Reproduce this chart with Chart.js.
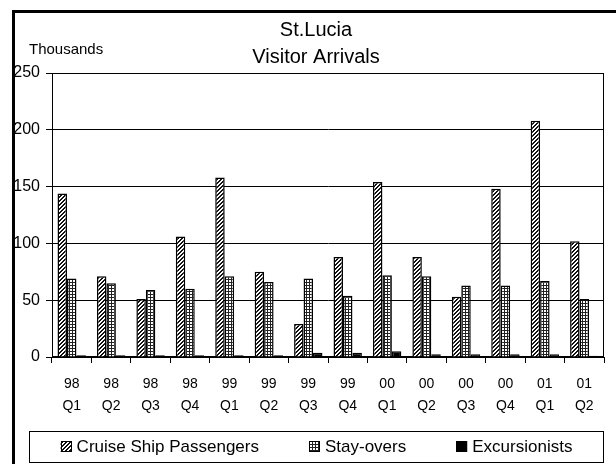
<!DOCTYPE html>
<html>
<head>
<meta charset="utf-8">
<title>St.Lucia Visitor Arrivals</title>
<script src="https://cdn.jsdelivr.net/npm/chart.js@4/dist/chart.umd.min.js"></script>
<style>
  html, body { margin: 0; padding: 0; background: #fff; }
  canvas { display: block; }
</style>
</head>
<body>
<canvas id="arrivalsChart" width="616" height="464"></canvas>
<script>
// quarter labels (year / quarter)
const years = ["98", "98", "98", "98", "99", "99", "99", "99", "00", "00", "00", "00", "01", "01"];
const quarters = ["Q1", "Q2", "Q3", "Q4", "Q1", "Q2", "Q3", "Q4", "Q1", "Q2", "Q3", "Q4", "Q1", "Q2"];

// arrivals in thousands
const cruisePassengers = [144, 71, 51, 106, 158, 75, 29, 88, 154, 88, 53, 148, 208, 102];
const stayOvers = [69, 65, 59, 60, 71, 66, 69, 54, 72, 71, 63, 63, 67, 51];
const excursionists = [1.5, 1.5, 1.5, 1.5, 1.5, 1.5, 3.8, 3.8, 5, 2.5, 2.5, 2.5, 2.5, 1];

const yTicks = [0, 50, 100, 150, 200, 250];
const titleLines = ["St.Lucia", "Visitor Arrivals"];

const FONT = "'Liberation Sans', Arial, sans-serif";

function makePattern(size, paint) {
  const tile = document.createElement("canvas");
  tile.width = size;
  tile.height = size;
  const t = tile.getContext("2d");
  t.fillStyle = "#fff";
  t.fillRect(0, 0, size, size);
  paint(t, size);
  return t.createPattern(tile, "repeat");
}

// fine diagonal hatch
const hatch = makePattern(4, (t, n) => {
  t.fillStyle = "#111";
  for (let i = 0; i < n; i++) {
    t.fillRect(i, n - 1 - i, 1, 1);
    t.fillRect(i, (n - i) % n, 1, 1);
  }
});

// small square grid
const grid = makePattern(3, (t, n) => {
  t.fillStyle = "#222";
  t.fillRect(0, 0, n, 1);
  t.fillRect(0, 0, 1, n);
});

const frame = {
  id: "frame",
  beforeDraw(chart) {
    const ctx = chart.ctx;
    ctx.save();
    ctx.fillStyle = "#fff";
    ctx.fillRect(0, 0, chart.width, chart.height);
    ctx.fillStyle = "#000";
    ctx.fillRect(12, 10, 3, chart.height - 10);
    ctx.fillRect(12, 10, chart.width - 12, 3);

    ctx.textBaseline = "middle";
    ctx.font = "15px " + FONT;
    ctx.fillText("Thousands", 29, 50);

    ctx.font = "20px " + FONT;
    ctx.textAlign = "center";
    ctx.fillText(titleLines[0], 316, 30);
    ctx.fillText(titleLines[1], 316, 57);
    ctx.restore();
  },
  beforeDatasetsDraw(chart) {
    const { ctx, chartArea: a } = chart;
    ctx.save();
    ctx.strokeStyle = "#000";
    ctx.lineWidth = 1;
    ctx.strokeRect(a.left + 0.5, a.top + 0.5, a.right - a.left - 1, a.bottom - a.top - 1);
    ctx.restore();
  }
};

// legend drawn in a bordered box under the axis labels
const boxLegend = {
  id: "boxLegend",
  afterDraw(chart) {
    const ctx = chart.ctx;
    const right = chart.chartArea.right;
    const left = 29, top = 431, bottom = 462;
    const sw = 11, gap = 5, space = 50;

    ctx.save();
    ctx.strokeStyle = "#000";
    ctx.lineWidth = 1;
    ctx.strokeRect(left + 0.5, top + 0.5, right - left - 1, bottom - top);

    ctx.font = "17px " + FONT;
    ctx.textBaseline = "middle";
    const items = chart.data.datasets.map((ds) => ({
      ds,
      w: sw + gap + ctx.measureText(ds.label).width
    }));
    const total = items.reduce((s, it) => s + it.w, 0) + space * (items.length - 1);
    let x = (left + right) / 2 - total / 2;
    const cy = (top + bottom) / 2;

    items.forEach((it) => {
      ctx.fillStyle = it.ds.backgroundColor;
      ctx.fillRect(x, cy - sw / 2, sw, sw);
      ctx.strokeStyle = "#000";
      ctx.strokeRect(Math.round(x) + 0.5, Math.round(cy - sw / 2) + 0.5, sw - 1, sw - 1);
      ctx.fillStyle = "#000";
      ctx.fillText(it.ds.label, x + sw + gap, cy + 1);
      x += it.w + space;
    });
    ctx.restore();
  }
};

new Chart(document.getElementById("arrivalsChart"), {
  type: "bar",
  data: {
    labels: years.map((y, i) => [y, quarters[i]]),
    datasets: [
      {
        label: "Cruise Ship Passengers",
        data: cruisePassengers,
        backgroundColor: hatch,
        borderColor: "#000",
        borderWidth: 1.5
      },
      {
        label: "Stay-overs",
        data: stayOvers,
        backgroundColor: grid,
        borderColor: "#000",
        borderWidth: 1.5
      },
      {
        label: "Excursionists",
        data: excursionists,
        backgroundColor: "#000",
        borderColor: "#000",
        borderWidth: 1.5
      }
    ]
  },
  options: {
    responsive: false,
    animation: false,
    devicePixelRatio: 1,
    categoryPercentage: 0.72,
    barPercentage: 1,
    layout: {
      padding: { top: 73, left: 12, right: 12, bottom: 47 }
    },
    scales: {
      x: {
        afterFit: (scale) => { scale.height = 60; },
        grid: {
          offset: true,
          drawOnChartArea: false,
          color: "#000",
          tickLength: 6
        },
        border: { color: "#000", width: 1 },
        ticks: {
          color: "#000",
          font: { family: FONT, size: 14, lineHeight: 1.57 },
          padding: 10,
          autoSkip: false,
          maxRotation: 0
        }
      },
      y: {
        min: 0,
        max: 250,
        afterFit: (scale) => { scale.width = 40; },
        afterBuildTicks: (scale) => {
          scale.ticks = yTicks.map((v) => ({ value: v }));
        },
        grid: { color: "#000", tickLength: 6 },
        border: { color: "#000", width: 1 },
        ticks: {
          color: "#000",
          font: { family: FONT, size: 16 },
          padding: 6
        }
      }
    },
    plugins: {
      legend: { display: false },
      tooltip: { enabled: false },
      title: { display: false }
    }
  },
  plugins: [frame, boxLegend]
});
</script>
</body>
</html>
